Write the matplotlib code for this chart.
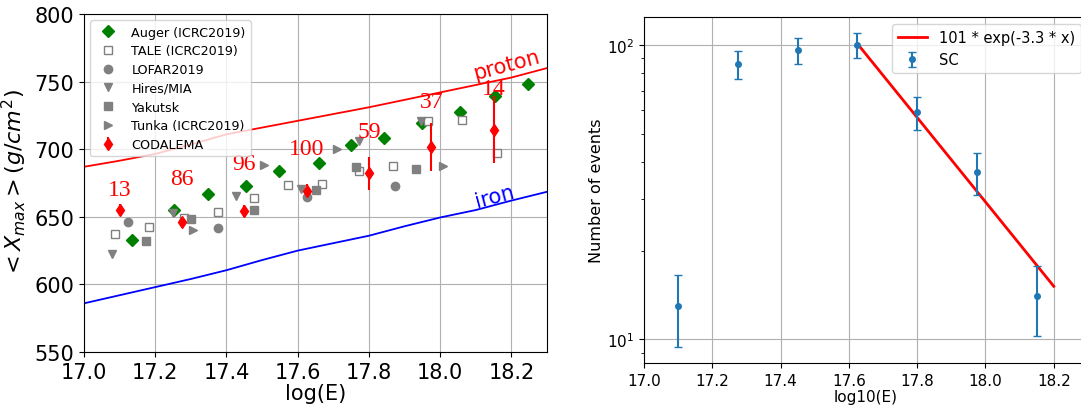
import numpy as np
import matplotlib
matplotlib.use("Agg")
import matplotlib.pyplot as plt

# ---------------- data: left panel ----------------
model_x = [17.0, 17.1, 17.2, 17.3, 17.4, 17.5, 17.6, 17.7, 17.8, 17.9, 18.0, 18.1, 18.2, 18.3]
proton_y = [687, 691.5, 696.5, 703.5, 711, 716, 721, 726, 731, 736.5, 742, 747.5, 753, 760]
iron_y = [586, 592, 598, 604, 610.5, 618, 625, 630.5, 636, 643, 649.5, 655, 662, 668.5]

auger_x = [17.136, 17.252, 17.348, 17.456, 17.548, 17.66, 17.75, 17.842, 17.949, 18.057, 18.155, 18.246]
auger_y = [632.7, 654.9, 667.2, 673.1, 684.2, 690.1, 702.9, 708.6, 719.6, 727.5, 739.0, 748.4]

tale_x = [17.087, 17.182, 17.28, 17.377, 17.477, 17.573, 17.669, 17.772, 17.868, 17.965, 18.06, 18.159]
tale_y = [637.4, 642.3, 649.0, 653.4, 664.0, 673.4, 674.1, 684.2, 687.7, 720.9, 721.3, 697.5]

lofar_x = [17.124, 17.375, 17.625, 17.873]
lofar_y = [646.5, 641.4, 664.8, 673.1]

hires_x = [17.079, 17.25, 17.428, 17.608, 17.771, 17.947]
hires_y = [622.2, 653.0, 665.5, 670.9, 706.1, 720.6]

yakutsk_x = [17.175, 17.300, 17.478, 17.652, 17.763, 17.933]
yakutsk_y = [632.0, 648.5, 654.9, 669.7, 686.7, 685.7]

tunka_x = [17.305, 17.505, 17.709, 18.008]
tunka_y = [640.1, 688.1, 700.4, 687.7]

coda_x = [17.1, 17.275, 17.45, 17.625, 17.8, 17.975, 18.15]
coda_y = [655.4, 646.3, 654.6, 669.2, 682.2, 701.7, 714.5]
coda_err = [3.8, 3.8, 4.5, 4.9, 12.3, 17.6, 24.6]
coda_n = [13, 86, 96, 100, 59, 37, 14]
coda_label_y = [670, 678.3, 689.4, 700.5, 712.8, 735, 745]

# ---------------- data: right panel ----------------
sc_x = [17.1, 17.275, 17.45, 17.625, 17.8, 17.975, 18.15]
sc_n = [13, 86, 96, 100, 59, 37, 14]
fit_amp = 101
fit_slope = 3.3
fit_x = [17.625, 18.2]

fig = plt.figure(figsize=(10.81, 4.10), dpi=100)

# ---------------- left panel ----------------
ax1 = fig.add_axes([0.0777, 0.139, 0.4283, 0.8244])
ax1.plot(model_x, proton_y, color='red', lw=1.3)
ax1.plot(model_x, iron_y, color='blue', lw=1.3)

ax1.plot(auger_x, auger_y, 'D', color='green', ms=6, ls='none', label='Auger (ICRC2019)')
ax1.plot(tale_x, tale_y, 's', mfc='white', mec='gray', ms=6, ls='none', label='TALE (ICRC2019)')
ax1.plot(lofar_x, lofar_y, 'o', color='gray', ms=6, ls='none', label='LOFAR2019')
ax1.plot(hires_x, hires_y, 'v', color='gray', ms=6, ls='none', label='Hires/MIA')
ax1.plot(yakutsk_x, yakutsk_y, 's', color='gray', ms=6, ls='none', label='Yakutsk')
ax1.plot(tunka_x, tunka_y, '>', color='gray', ms=6, ls='none', label='Tunka (ICRC2019)')
ax1.errorbar(coda_x, coda_y, yerr=coda_err, fmt='d', color='red', ms=6, lw=1.5,
             label='CODALEMA')

for x, y, n in zip(coda_x, coda_label_y, coda_n):
    ax1.text(x, y, str(n), color='red', fontsize=17, family='Liberation Serif',
             ha='center', va='center')

ax1.text(18.187, 762.7, 'proton', color='red', fontsize=15, rotation=15,
         ha='center', va='center')
ax1.text(18.153, 665.5, 'iron', color='blue', fontsize=15, rotation=15,
         ha='center', va='center')

ax1.set_xlim(17.0, 18.3)
ax1.set_ylim(550, 800)
ax1.set_xticks([17.0, 17.2, 17.4, 17.6, 17.8, 18.0, 18.2])
ax1.set_yticks([550, 600, 650, 700, 750, 800])
ax1.tick_params(labelsize=15)
ax1.grid(True)
ax1.set_xlabel('log(E)', fontsize=15, labelpad=1)
ax1.set_ylabel(r'$<X_{max}> (g/cm^2)$', fontsize=16)
ax1.legend(loc='upper left', fontsize=9.2, labelspacing=0.45, borderaxespad=0.5)

# ---------------- right panel ----------------
ax2 = fig.add_axes([0.5957, 0.112, 0.4107, 0.844])
fit_xa = np.array(fit_x)
ax2.plot(fit_xa, fit_amp * np.exp(-fit_slope * (fit_xa - fit_x[0])), color='red', lw=2,
         label='101 * exp(-3.3 * x)')
ax2.errorbar(sc_x, sc_n, yerr=np.sqrt(sc_n), fmt='o', color='tab:blue', ms=4,
             capsize=3, label='SC')
ax2.set_yscale('log')
ax2.set_xlim(17.0, 18.3)
ax2.set_xticks([17.0, 17.2, 17.4, 17.6, 17.8, 18.0, 18.2])
ax2.tick_params(labelsize=11)
ax2.grid(True)
ax2.set_xlabel('log10(E)', fontsize=11, labelpad=1)
ax2.set_ylabel('Number of events', fontsize=11.5, labelpad=2)
ax2.legend(loc='upper right', fontsize=10.5)

fig.savefig('out.png', dpi=100)
